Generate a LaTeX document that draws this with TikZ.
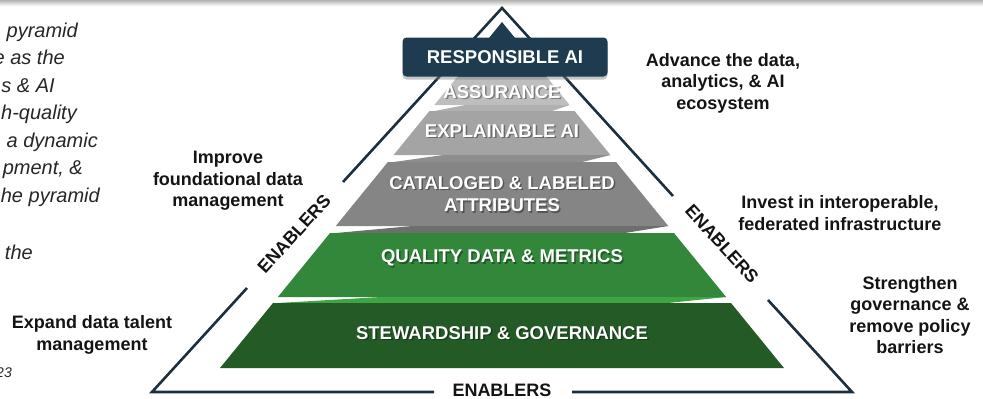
\documentclass[tikz,border=0pt]{standalone}
\usepackage{fontspec}
\setmainfont{Liberation Sans}
\usetikzlibrary{shadows}
\definecolor{navy}{HTML}{1F3B50}
\definecolor{rim}{HTML}{1C2F3E}
\definecolor{assur}{HTML}{BEBEBE}
\definecolor{xai}{HTML}{A4A4A4}
\definecolor{cat}{HTML}{858585}
\definecolor{qual}{HTML}{32873A}
\definecolor{stew}{HTML}{235A26}
\definecolor{seamA}{HTML}{B0B0B0}
\definecolor{seamB}{HTML}{8E8E8E}
\definecolor{seamC}{HTML}{6E6E6E}
\definecolor{seamD}{HTML}{3EA444}
\definecolor{note}{HTML}{262626}

% one band of the pyramid: top y, bottom y, colour
\newcommand{\tier}[3]{%
  \pgfmathsetmacro\tierA{0.815*(#1-22)}%
  \pgfmathsetmacro\tierB{0.815*(#2-22)}%
  \fill[#3] ({502-\tierA},#1) -- ({502+\tierA},#1) -- ({502+\tierB},#2) -- ({502-\tierB},#2) -- cycle;}
% skewed strip between two bands: upper bottom y, lower top y, colour
\newcommand{\seam}[3]{%
  \pgfmathsetmacro\seamW{0.815*(#1-22)}%
  \fill[#3] ({502-\seamW},#2) -- ({502-0.54*\seamW},#1) -- ({502+\seamW},#1) -- ({502+0.74*\seamW},#2) -- cycle;}

\tikzset{
  rimline/.style={draw=rim, line width=2.6pt, line join=miter},
  tierlabel/.style={text=white, font=\bfseries\fontsize{18.5}{22.5}\selectfont, align=center, inner sep=0pt},
  tiershadow/.style={tierlabel, text=black, opacity=0.35},
  goal/.style={text=black!92, font=\bfseries\fontsize{18}{21.5}\selectfont, align=center, inner sep=0pt},
  enabler/.style={text=black!92, font=\bfseries\fontsize{18}{21.5}\selectfont, inner sep=0pt},
  notetext/.style={text=note, font=\itshape\fontsize{20}{24}\selectfont, anchor=base east, inner sep=0pt},
}

\begin{document}
\begin{tikzpicture}[x=1pt,y=-1pt]
\useasboundingbox (0,0) rectangle (983,399);
\shade[top color=black!30, bottom color=white] (0,0) rectangle (983,6);

% pyramid bands
\tier{22}{77}{navy}
\tier{77}{105}{assur}
\seam{105}{111}{seamA}
\tier{111}{155}{xai}
\seam{155}{162}{seamB}
\tier{162}{226}{cat}
\seam{226}{233}{seamC}
\tier{233}{297}{qual}
\seam{297}{303}{seamD}
\tier{303}{368}{stew}

\foreach \nm/\y/\txt in {assur/92/ASSURANCE, xai/131/EXPLAINABLE AI,
    cat/194/{CATALOGED \& LABELED\\ATTRIBUTES}, qual/258/QUALITY DATA \& METRICS,
    stew/333/STEWARDSHIP \& GOVERNANCE} {
  \node[tiershadow] (\nm-sh) at (503.5,\y+1.5) {\txt};
  \node[tierlabel] (\nm) at (502,\y) {\txt};
}

% outer frame, broken where the enablers sit
\coordinate (apex) at (502,8);
\coordinate (bl) at (152,392);
\coordinate (br) at (852,392);
\coordinate (l-up) at (343,182);
\coordinate (l-lo) at (247,288);
\coordinate (r-up) at (673,196);
\coordinate (r-lo) at (768,300);
\coordinate (b-l) at (434,392);
\coordinate (b-r) at (572,392);
\draw[rimline] (l-up) -- (apex) -- (r-up);
\draw[rimline] (l-lo) -- (bl) -- (b-l);
\draw[rimline] (b-r) -- (br) -- (r-lo);

% top block sits over the frame
\node[fill=navy, rounded corners=4pt, minimum width=205pt, minimum height=39pt,
  drop shadow={opacity=0.45, shadow xshift=0pt, shadow yshift=-3pt},
  text=white, font=\bfseries\fontsize{18.5}{22}\selectfont] (rai) at (505,57) {RESPONSIBLE AI};

\node[enabler, rotate=47.7] (en-l) at (294,234) {ENABLERS};
\node[enabler, rotate=-47.7] (en-r) at (722,244) {ENABLERS};
\node[enabler] (en-b) at (502,390) {ENABLERS};

% goals round the frame
\node[goal] (g-adv) at (723,83) {Advance the data,\\analytics, \& AI\\ecosystem};
\node[goal] (g-inv) at (840,213) {Invest in interoperable,\\federated infrastructure};
\node[goal] (g-str) at (910,315) {Strengthen\\governance \&\\remove policy\\barriers};
\node[goal] (g-imp) at (228,181) {Improve\\foundational data\\management};
\node[goal] (g-exp) at (92,335) {Expand data talent\\management};

% side note
\node[notetext] (n1) at (78,37) {pyramid};
\node[notetext] (n2) at (65,64) {e as the};
\node[notetext] (n3) at (55,92) {s \& AI};
\node[notetext] (n4) at (77,119) {h-quality};
\node[notetext] (n5) at (98,147) {a dynamic};
\node[notetext] (n6) at (83,174) {pment, \&};
\node[notetext] (n7) at (100,202) {he pyramid};
\node[notetext] (n8) at (33,259) {the};
\node[notetext, font=\itshape\fontsize{14}{16}\selectfont] (n9) at (12,377) {23};
\end{tikzpicture}
\end{document}
